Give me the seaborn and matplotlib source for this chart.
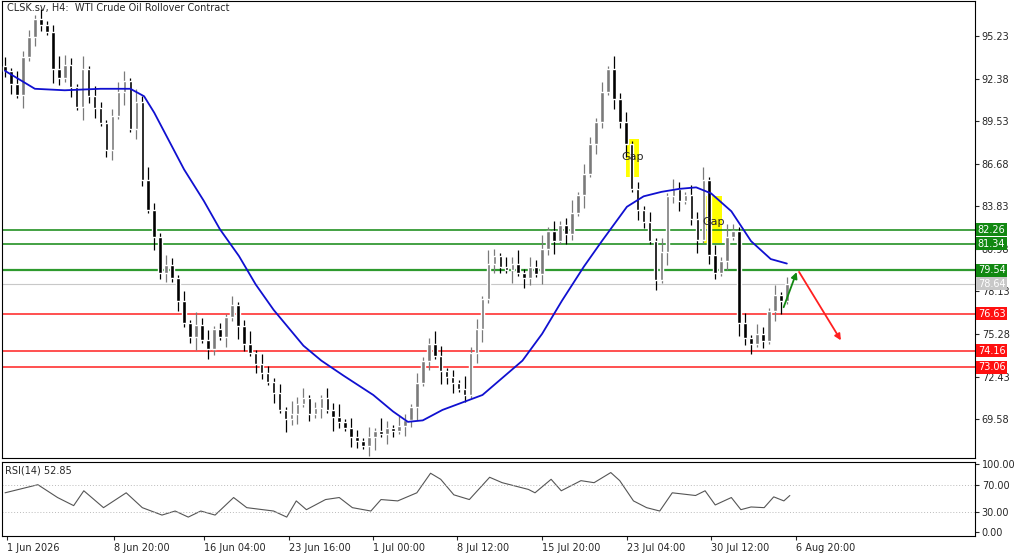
import numpy as np
import pandas as pd
import matplotlib
matplotlib.use("Agg")
import matplotlib.pyplot as plt
import seaborn as sns

# ---- data (H4 candles, condensed) ----
closes = [92.9, 92.0, 91.3, 93.8, 95.2, 96.4, 96.0, 95.5, 93.0, 92.4, 93.3, 91.8, 90.5, 93.0, 91.2,
          90.4, 89.4, 87.6, 89.9, 91.5, 92.2, 89.0, 90.8, 85.6, 83.6, 81.8, 79.4, 79.9, 79.0, 77.5,
          76.0, 75.1, 75.9, 74.9, 74.3, 75.6, 75.1, 76.4, 77.2, 75.8, 74.6, 74.0, 73.3, 72.7, 72.1,
          71.3, 70.2, 69.6, 69.9, 70.6, 71.0, 69.9, 70.3, 71.0, 70.2, 69.7, 69.4, 69.0, 68.4, 68.1,
          67.8, 68.4, 68.8, 68.6, 69.0, 68.8, 69.1, 69.5, 70.4, 72.0, 73.5, 74.6, 73.8, 72.8, 72.4,
          72.0, 71.6, 71.2, 74.0, 75.6, 77.6, 80.0, 80.5, 79.8, 79.6, 80.0, 79.4, 79.0, 79.8, 79.3,
          81.0, 82.2, 81.5, 82.6, 82.0, 83.4, 84.6, 86.0, 88.0, 89.5, 91.5, 93.0, 91.0, 89.5, 88.0,
          85.0, 83.6, 82.8, 81.5, 78.9, 80.8, 84.5, 85.0, 84.2, 84.6, 83.0, 81.6, 85.6, 80.6, 79.4,
          80.2, 81.8, 82.2, 76.0, 75.0, 74.6, 75.3, 74.8, 76.8, 77.9, 77.5, 78.64]
wick_up = "3142213124321413212331424213213142312131241321314231213241321314213213124312142314213241324131241321314231213141321324131421313213124132"
wick_dn = "2314132142131423123141321423131241321314213213142312131421321341321324131423121341321413213241321413213241321314231241321314231213412312"

ma_idx = [0, 5, 10, 16, 21, 23.3, 25, 27.5, 30, 33.3, 36, 39.2, 42, 45, 50, 53, 56.7, 61.7, 65, 67.5, 70, 73.3,
          80, 86.7, 90, 93.3, 97, 100, 104.2, 107, 110, 113, 115.8, 118.3, 121.7, 125, 128.3, 131]
ma_val = [92.9, 91.7, 91.6, 91.7, 91.7, 91.2, 90.1, 88.2, 86.3, 84.2, 82.3, 80.5, 78.6, 76.9, 74.5, 73.5, 72.5,
          71.2, 70.1, 69.4, 69.5, 70.2, 71.2, 73.5, 75.3, 77.5, 79.8, 81.5, 83.8, 84.5, 84.8, 85.0, 85.1,
          84.7, 83.5, 81.5, 80.3, 80.0]

rsi_idx = [0, 5.5, 8.8, 11.5, 13.2, 16.5, 20.3, 23, 26.3, 28.5, 30.7, 32.8, 35.2, 38.3, 40.5, 45, 47.2, 48.8, 50.5, 53.7, 56, 58.2, 61.3, 63, 65.8, 69, 71.3, 73, 75.2, 77.8, 81.2, 83.3, 87.7, 88.8, 91.5, 93.2, 96.5, 98.7, 101.5, 103, 105.3, 107.5, 109.7, 111.8, 115.7, 117.3, 119, 121.7, 123.3, 125, 127.2, 128.8, 130.5, 131.5]
rsi_val = [58, 70, 51, 39, 61, 36, 58, 36, 25, 31, 22, 31, 25, 51, 36, 31, 22, 46, 33, 48, 51, 36, 31, 48, 46, 58, 87, 78, 55, 48, 81, 73, 63, 58, 78, 61, 76, 73, 88, 76, 46, 36, 31, 58, 54, 61, 40, 51, 33, 37, 36, 52, 46, 54]

price_ticks = [95.23, 92.38, 89.53, 86.68, 83.83, 80.98, 78.13, 75.28, 72.43, 69.58]
green_levels = [82.26, 81.34, 79.54]
red_levels = [76.63, 74.16, 73.06]
last_price = 78.64
date_pos = [0.3, 18.3, 33.3, 47.5, 61.7, 75.8, 90, 104.2, 118.3, 132.5]
date_labels = ["1 Jun 2026", "8 Jun 20:00", "16 Jun 04:00", "23 Jun 16:00", "1 Jul 00:00",
               "8 Jul 12:00", "15 Jul 20:00", "23 Jul 04:00", "30 Jul 12:00", "6 Aug 20:00"]
gaps = [(104.0, 106.3, 85.8, 88.35, 87.1), (117.2, 120.2, 81.4, 84.5, 82.8)]

sns.set_style("white")
plt.rcParams["font.family"] = ["DejaVu Sans"]
plt.rcParams["font.size"] = 7

fig = plt.figure(figsize=(10.24, 5.54), dpi=100)
ax = fig.add_axes([0.002, 0.173, 0.950, 0.825])
ax_r = fig.add_axes([0.002, 0.0325, 0.950, 0.134], sharex=ax)

df = pd.DataFrame({"close": closes})
df["open"] = df["close"].shift(1).fillna(df["close"].iloc[0] + 0.3)
df["high"] = df[["open", "close"]].max(axis=1) + [int(c) * 0.22 for c in wick_up[:len(df)]]
df["low"] = df[["open", "close"]].min(axis=1) - [int(c) * 0.22 for c in wick_dn[:len(df)]]
df["idx"] = np.arange(len(df))
x_max = 162.5

# gap boxes (behind candles)
for x0, x1, lo, hi, ty in gaps:
    ax.fill_between([x0, x1], lo, hi, color="#ffff00", zorder=1, lw=0)
    ax.text((x0 + x1) / 2, ty, "Gap", ha="center", va="center", fontsize=8, zorder=5)

# levels
ax.axhline(last_price, color="#c8c8c8", lw=0.8, zorder=2)
for i, lv in enumerate(green_levels):
    ax.axhline(lv, color="#2e9a2e" if i == 2 else "#118811", lw=1.6 if i == 2 else 1.1, zorder=2)
for lv in red_levels:
    ax.axhline(lv, color="#ff2020", lw=1.1, zorder=2)

# candles
for _, r in df.iterrows():
    bull = r["close"] >= r["open"]
    col = "#7a7a7a" if bull else "black"
    ax.vlines(r["idx"], r["low"], r["high"], color=col, lw=0.9, zorder=3)
    ax.bar(r["idx"], abs(r["close"] - r["open"]) or 0.05, bottom=min(r["open"], r["close"]),
           width=0.6, color=col, zorder=3)

sns.lineplot(x=ma_idx, y=ma_val, ax=ax, color="#1010d0", lw=1.3, zorder=4)

# arrows
ax.annotate("", xy=(132.8, 79.6), xytext=(130.3, 76.9),
            arrowprops=dict(arrowstyle="-|>", color="#118811", lw=1.3, mutation_scale=9), zorder=6)
ax.annotate("", xy=(140.3, 74.7), xytext=(132.8, 79.6),
            arrowprops=dict(arrowstyle="-|>", color="#ff2020", lw=1.3, mutation_scale=9), zorder=6)

ax.set_xlim(-0.5, x_max)
ax.set_ylim(66.97, 97.57)
ax.yaxis.tick_right()
ax.set_yticks(price_ticks)
ax.set_yticklabels([f"{t:.2f}" for t in price_ticks])
ax.tick_params(axis="y", length=3, labelsize=7, pad=2, direction="out", right=True)
ax.tick_params(axis="x", bottom=False, labelbottom=False)
ax.text(0.005, 0.995, "CLSK.sv, H4:  WTI Crude Oil Rollover Contract", transform=ax.transAxes,
        ha="left", va="top", fontsize=7)

# right side price boxes
for lv, col in [(82.26, "#118811"), (81.34, "#118811"), (79.54, "#118811"),
                (last_price, "#c8c8c8"), (76.63, "#ff1010"), (74.16, "#ff1010"), (73.06, "#ff1010")]:
    ax.text(1.003, lv, f"{lv:.2f}", transform=ax.get_yaxis_transform(), ha="left", va="center",
            fontsize=7, color="white", bbox=dict(boxstyle="square,pad=0.15", fc=col, ec="none"), zorder=7)

# RSI pane
sns.lineplot(x=rsi_idx, y=rsi_val, ax=ax_r, color="#555555", lw=0.8)
ax_r.axhline(70, color="#bbbbbb", lw=0.7, ls=(0, (1, 2)))
ax_r.axhline(30, color="#bbbbbb", lw=0.7, ls=(0, (1, 2)))
ax_r.set_ylim(-6, 104)
ax_r.yaxis.tick_right()
ax_r.set_yticks([100, 70, 30, 0])
ax_r.set_yticklabels(["100.00", "70.00", "30.00", "0.00"])
ax_r.tick_params(axis="y", length=3, labelsize=7, pad=2, right=True)
ax_r.set_xticks(date_pos)
ax_r.set_xticklabels(date_labels, ha="left")
ax_r.tick_params(axis="x", length=3, labelsize=7, pad=2, bottom=True)
ax_r.text(0.003, 0.95, "RSI(14) 52.85", transform=ax_r.transAxes, ha="left", va="top", fontsize=7)

for a in (ax, ax_r):
    for s in a.spines.values():
        s.set_color("black")
        s.set_linewidth(0.8)

fig.savefig("out.png", dpi=100)
